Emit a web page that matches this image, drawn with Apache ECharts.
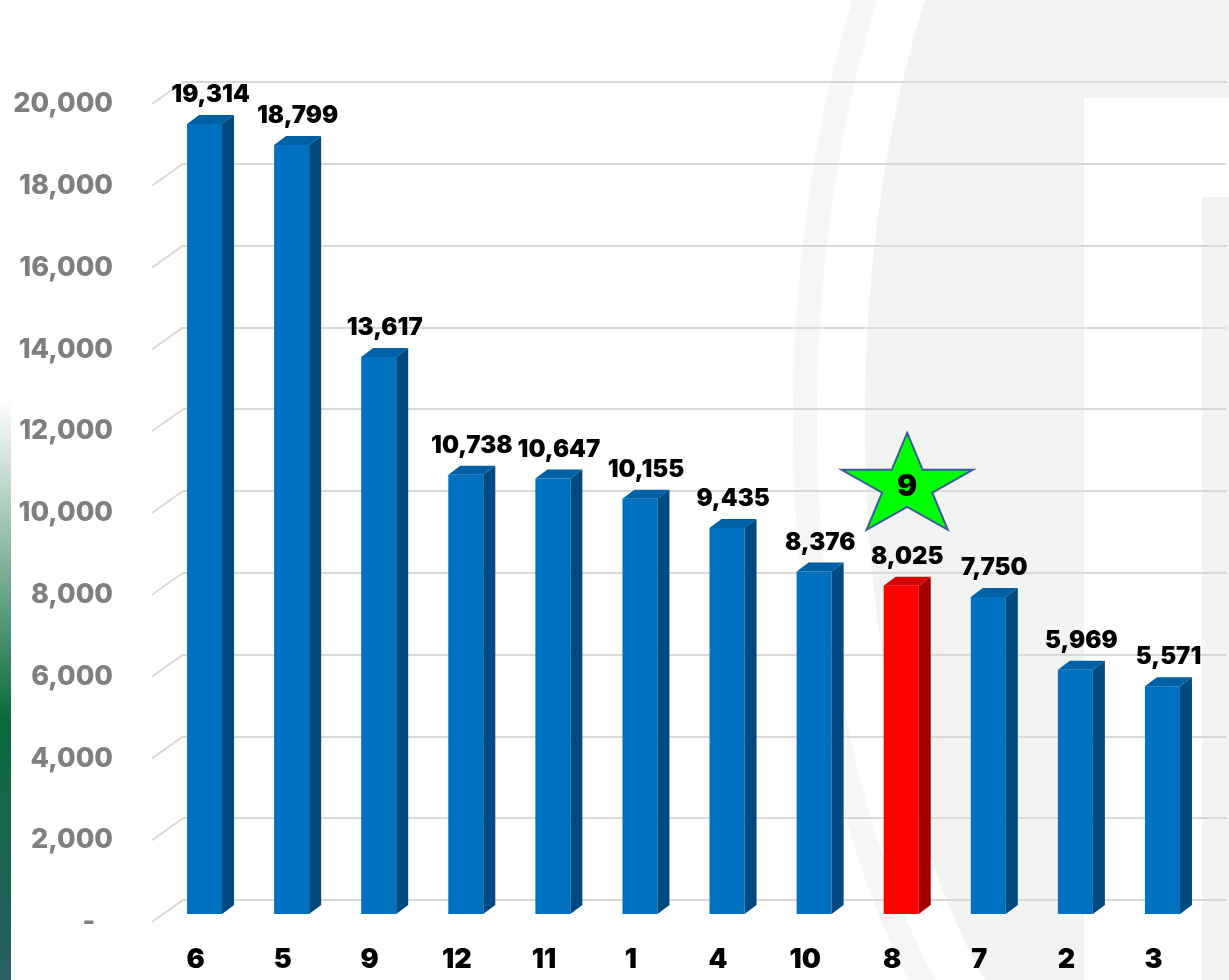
<!DOCTYPE html>
<html>
<head>
<meta charset="utf-8">
<script src="https://cdn.jsdelivr.net/npm/echarts@6/dist/echarts.min.js"></script>
<style>
  html, body { margin: 0; padding: 0; background: #fff; }
  #main { width: 1229px; height: 980px; }
</style>
</head>
<body>
<div id="main"></div>
<script>
// data
const categories = ['6', '5', '9', '12', '11', '1', '4', '10', '8', '7', '2', '3'];
const values = [19314, 18799, 13617, 10738, 10647, 10155, 9435, 8376, 8025, 7750, 5969, 5571];
const yTicks = [0, 2000, 4000, 6000, 8000, 10000, 12000, 14000, 16000, 18000, 20000];
const highlightCategory = '8';
const starLabel = '9';

// layout: front plane (labels, bars) and back wall (gridlines)
const FRONT = { left: 152, right: 32, top: 104, bottom: 58 };
const BACK = { left: 183, right: 3, top: 82, bottom: 80 };
const DEPTH_X = BACK.left - FRONT.left;
const DEPTH_Y = FRONT.top - BACK.top;
const BAR_W = 35, BAR_SHIFT_X = 9, BAR_SHIFT_Y = 8, SIDE_X = 12, SIDE_Y = 9;
const BLUE = { front: '#0070c0', side: '#004a80', top: '#0060a6' };
const RED = { front: '#ff0000', side: '#a50000', top: '#d80000' };
const STAR_VALUE = 10650, STAR_RX = 69, STAR_RY = 53.6;
const LABEL_FONT = '900 24px Inter';

function ellipsePts(cx, cy, rx, ry, n) {
  const pts = [];
  for (let k = 0; k < n; k++) {
    const a = k / n * Math.PI * 2;
    pts.push([cx + rx * Math.cos(a), cy + ry * Math.sin(a)]);
  }
  return pts;
}

const chart = echarts.init(document.getElementById('main'));

const option = {
  backgroundColor: '#ffffff',
  animation: false,
  graphic: [
    // faint watermark
    { type: 'polygon', z: -10, silent: true, shape: { points: ellipsePts(1165, 420, 360, 760, 180) },
      style: { fill: 'none', stroke: '#f5f6f5', lineWidth: 24 } },
    { type: 'polygon', z: -10, silent: true, shape: { points: ellipsePts(1165, 420, 300, 700, 180) },
      style: { fill: '#f2f4f3' } },
    { type: 'rect', z: -9, silent: true, shape: { x: 1084, y: 98, width: 118, height: 882 }, style: { fill: '#fff' } },
    { type: 'rect', z: -9, silent: true, shape: { x: 1202, y: 98, width: 27, height: 99 }, style: { fill: '#fff' } },
    // green strip on the left edge
    { type: 'rect', z: -9, silent: true, shape: { x: 0, y: 400, width: 11, height: 580 },
      style: { fill: new echarts.graphic.LinearGradient(0, 0, 0, 1, [
        { offset: 0, color: '#ffffff' },
        { offset: 0.55, color: '#0a6a3c' },
        { offset: 1, color: '#2b5f64' }
      ]) } }
  ],
  grid: [
    Object.assign({}, FRONT),
    Object.assign({}, BACK)
  ],
  xAxis: [
    {
      gridIndex: 0, type: 'category', data: categories,
      axisLine: { show: false }, axisTick: { show: false },
      axisLabel: { margin: 24, color: '#000', fontSize: 27, fontWeight: 900, fontFamily: 'Inter' }
    },
    { gridIndex: 1, type: 'value', min: 0, max: 1, show: false }
  ],
  yAxis: [
    {
      gridIndex: 0, type: 'value', min: 0, max: 20000, interval: 2000,
      axisLine: { show: false }, axisTick: { show: false }, splitLine: { show: false },
      axisLabel: {
        margin: 39, color: '#7f7f7f', fontSize: 27, fontWeight: 800, fontFamily: 'Inter',
        formatter: v => v === 0 ? '-   ' : v.toLocaleString('en-US')
      }
    },
    {
      gridIndex: 1, type: 'value', min: 0, max: 20000, interval: 2000,
      axisLine: { show: false }, axisTick: { show: false }, axisLabel: { show: false },
      splitLine: { lineStyle: { color: '#d9d9d9', width: 2 } }
    }
  ],
  series: [
    {
      // floor-to-wall diagonals at each gridline
      type: 'custom', xAxisIndex: 1, yAxisIndex: 1, silent: true,
      data: yTicks.map(v => [0, v]),
      renderItem: (params, api) => {
        const p = api.coord([0, api.value(1)]);
        return {
          type: 'line',
          shape: { x1: p[0], y1: p[1], x2: p[0] - DEPTH_X, y2: p[1] + DEPTH_Y },
          style: { stroke: '#d9d9d9', lineWidth: 2 }
        };
      }
    },
    {
      // 3D bars with value labels
      type: 'custom', xAxisIndex: 0, yAxisIndex: 0,
      data: values.map((v, i) => [i, v]),
      renderItem: (params, api) => {
        const i = api.value(0), v = api.value(1);
        const top = api.coord([i, v]), base = api.coord([i, 0]);
        const cx = top[0] + BAR_SHIFT_X;
        const y0 = top[1] - BAR_SHIFT_Y, y1 = base[1] - BAR_SHIFT_Y;
        const x0 = cx - BAR_W / 2, x1 = cx + BAR_W / 2;
        const pal = categories[i] === highlightCategory ? RED : BLUE;
        return {
          type: 'group',
          children: [
            { type: 'rect', shape: { x: x0, y: y0, width: BAR_W, height: y1 - y0 }, style: { fill: pal.front } },
            { type: 'polygon', shape: { points: [[x1, y0], [x1 + SIDE_X, y0 - SIDE_Y], [x1 + SIDE_X, y1 - SIDE_Y], [x1, y1]] },
              style: { fill: pal.side } },
            { type: 'polygon', shape: { points: [[x0, y0], [x1, y0], [x1 + SIDE_X, y0 - SIDE_Y], [x0 + SIDE_X, y0 - SIDE_Y]] },
              style: { fill: pal.top } },
            { type: 'text', x: (x0 + x1 + SIDE_X) / 2, y: y0 - SIDE_Y - 20,
              style: { text: v.toLocaleString('en-US'), font: LABEL_FONT, fill: '#000',
                       textAlign: 'center', textVerticalAlign: 'middle' } }
          ]
        };
      }
    },
    {
      // rank star above the highlighted bar
      type: 'custom', xAxisIndex: 0, yAxisIndex: 0, silent: true,
      data: [[categories.indexOf(highlightCategory), STAR_VALUE]],
      renderItem: (params, api) => {
        const c = api.coord([api.value(0), api.value(1)]);
        const cx = c[0] + BAR_SHIFT_X + 6, cy = c[1];
        const pts = [];
        for (let k = 0; k < 10; k++) {
          const a = -Math.PI / 2 + k * Math.PI / 5;
          const r = k % 2 ? 0.382 : 1;
          pts.push([cx + r * STAR_RX * Math.cos(a), cy + r * STAR_RY * Math.sin(a)]);
        }
        return {
          type: 'group',
          children: [
            { type: 'polygon', shape: { points: pts }, style: { fill: '#00ff00', stroke: '#3d5a9c', lineWidth: 2 } },
            { type: 'text', x: cx, y: cy + 1,
              style: { text: starLabel, font: '900 30px Inter', fill: '#000', textAlign: 'center', textVerticalAlign: 'middle' } }
          ]
        };
      }
    }
  ]
};

chart.setOption(option);
</script>
</body>
</html>
